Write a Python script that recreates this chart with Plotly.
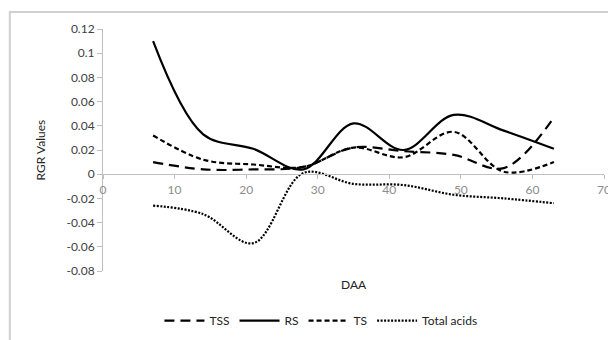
import plotly.graph_objects as go

daa = [7, 14, 21, 28, 35, 42, 49, 56, 63]
tss = [0.010, 0.004, 0.004, 0.006, 0.022, 0.019, 0.016, 0.005, 0.047]
rs = [0.110, 0.033, 0.021, 0.004, 0.042, 0.020, 0.049, 0.036, 0.021]
ts = [0.032, 0.012, 0.008, 0.006, 0.022, 0.014, 0.035, 0.002, 0.010]
total_acids = [-0.026, -0.033, -0.057, 0.001, -0.008, -0.009, -0.017, -0.020, -0.024]

x_ticks = [0, 10, 20, 30, 40, 50, 60, 70]
y_ticks = [-0.08, -0.06, -0.04, -0.02, 0, 0.02, 0.04, 0.06, 0.08, 0.1, 0.12]
y_tick_text = ["-0.08", "-0.06", "-0.04", "-0.02", "0", "0.02", "0.04", "0.06", "0.08", "0.1", "0.12"]

series = [
    ("TSS", tss, "10px,6px", 2.2),
    ("RS", rs, "solid", 2.2),
    ("TS", ts, "5px,3px", 2.2),
    ("Total acids", total_acids, "2px,1.5px", 2.2),
]

fig = go.Figure()
for name, vals, dash, w in series:
    fig.add_trace(go.Scatter(
        x=daa, y=vals, name=name, mode="lines",
        line=dict(color="black", width=w, dash=dash, shape="spline", smoothing=1.0),
    ))

font_family = "Lato, Open Sans, sans-serif"
fig.update_layout(
    width=608, height=332,
    margin=dict(l=95, r=12, t=21, b=69, autoexpand=False),
    paper_bgcolor="white", plot_bgcolor="white",
    font=dict(family=font_family, size=11, color="#595959"),
    showlegend=True,
    legend=dict(orientation="h", x=0.435, xanchor="center", y=-0.205, yanchor="middle",
                font=dict(size=12, color="#222222"), itemwidth=40,
                bgcolor="rgba(0,0,0,0)"),
    xaxis=dict(range=[0, 70], tickvals=x_ticks, anchor="free", position=0.4,
               showgrid=False, zeroline=False, showline=True, linecolor="#bfbfbf", linewidth=1,
               ticks="outside", ticklen=4, tickcolor="#bfbfbf",
               tickfont=dict(size=12, color="#8c8c8c")),
    yaxis=dict(range=[-0.08, 0.12], tickvals=y_ticks, ticktext=y_tick_text,
               showgrid=False, zeroline=False, showline=True, linecolor="#bfbfbf", linewidth=1,
               ticks="outside", ticklen=5, tickcolor="#bfbfbf",
               tickfont=dict(size=12, color="#404040")),
    shapes=[dict(type="rect", xref="paper", yref="paper", x0=-0.186, x1=1.05, y0=-0.35, y1=1.0702,
                 line=dict(color="#d0d0d0", width=2), layer="above")],
    annotations=[
        dict(text="DAA", xref="paper", yref="paper", x=0.5, y=-0.055, xanchor="center",
             yanchor="middle", showarrow=False, font=dict(size=12, color="#222222")),
        dict(text="RGR Values", xref="paper", yref="paper", x=-0.125, y=0.5, xanchor="center",
             yanchor="middle", textangle=-90, showarrow=False,
             font=dict(size=12, color="#222222")),
    ],
)

fig.write_html("out.html")
